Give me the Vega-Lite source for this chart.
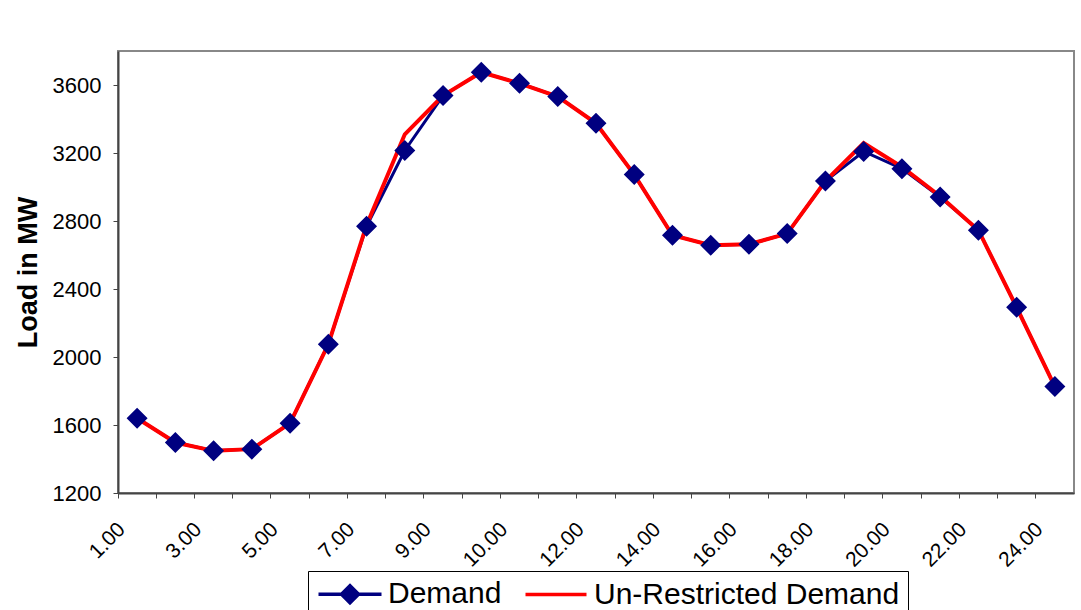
{
  "$schema": "https://vega.github.io/schema/vega-lite/v6.json",
  "autosize": "none",
  "width": 956,
  "height": 442,
  "padding": {"left": 118, "top": 51, "right": 7, "bottom": 117},
  "background": "white",
  "config": {
    "font": "Liberation Sans",
    "view": {"stroke": "#888888", "strokeWidth": 2}
  },
  "data": {
    "values": [
      {"hour": "1.00", "series": "Demand", "load": 1640},
      {"hour": "2.00", "series": "Demand", "load": 1497},
      {"hour": "3.00", "series": "Demand", "load": 1448},
      {"hour": "4.00", "series": "Demand", "load": 1458},
      {"hour": "5.00", "series": "Demand", "load": 1611},
      {"hour": "6.00", "series": "Demand", "load": 2075},
      {"hour": "7.00", "series": "Demand", "load": 2769},
      {"hour": "8.00", "series": "Demand", "load": 3215},
      {"hour": "9.00", "series": "Demand", "load": 3538},
      {"hour": "9.30", "series": "Demand", "load": 3675},
      {"hour": "10.00", "series": "Demand", "load": 3610},
      {"hour": "11.00", "series": "Demand", "load": 3532},
      {"hour": "12.00", "series": "Demand", "load": 3375},
      {"hour": "13.00", "series": "Demand", "load": 3073},
      {"hour": "14.00", "series": "Demand", "load": 2716},
      {"hour": "15.00", "series": "Demand", "load": 2658},
      {"hour": "16.00", "series": "Demand", "load": 2663},
      {"hour": "17.00", "series": "Demand", "load": 2726},
      {"hour": "18.00", "series": "Demand", "load": 3035},
      {"hour": "19.00", "series": "Demand", "load": 3209},
      {"hour": "20.00", "series": "Demand", "load": 3108},
      {"hour": "21.00", "series": "Demand", "load": 2941},
      {"hour": "22.00", "series": "Demand", "load": 2746},
      {"hour": "23.00", "series": "Demand", "load": 2292},
      {"hour": "24.00", "series": "Demand", "load": 1826},
      {"hour": "1.00", "series": "Un-Restricted Demand", "load": 1640},
      {"hour": "2.00", "series": "Un-Restricted Demand", "load": 1497},
      {"hour": "3.00", "series": "Un-Restricted Demand", "load": 1448},
      {"hour": "4.00", "series": "Un-Restricted Demand", "load": 1458},
      {"hour": "5.00", "series": "Un-Restricted Demand", "load": 1611},
      {"hour": "6.00", "series": "Un-Restricted Demand", "load": 2075},
      {"hour": "7.00", "series": "Un-Restricted Demand", "load": 2775},
      {"hour": "8.00", "series": "Un-Restricted Demand", "load": 3310},
      {"hour": "9.00", "series": "Un-Restricted Demand", "load": 3538},
      {"hour": "9.30", "series": "Un-Restricted Demand", "load": 3675},
      {"hour": "10.00", "series": "Un-Restricted Demand", "load": 3610},
      {"hour": "11.00", "series": "Un-Restricted Demand", "load": 3532},
      {"hour": "12.00", "series": "Un-Restricted Demand", "load": 3375},
      {"hour": "13.00", "series": "Un-Restricted Demand", "load": 3073},
      {"hour": "14.00", "series": "Un-Restricted Demand", "load": 2716},
      {"hour": "15.00", "series": "Un-Restricted Demand", "load": 2658},
      {"hour": "16.00", "series": "Un-Restricted Demand", "load": 2663},
      {"hour": "17.00", "series": "Un-Restricted Demand", "load": 2726},
      {"hour": "18.00", "series": "Un-Restricted Demand", "load": 3035},
      {"hour": "19.00", "series": "Un-Restricted Demand", "load": 3258},
      {"hour": "20.00", "series": "Un-Restricted Demand", "load": 3118},
      {"hour": "21.00", "series": "Un-Restricted Demand", "load": 2946},
      {"hour": "22.00", "series": "Un-Restricted Demand", "load": 2746},
      {"hour": "23.00", "series": "Un-Restricted Demand", "load": 2292},
      {"hour": "24.00", "series": "Un-Restricted Demand", "load": 1826}
    ]
  },
  "encoding": {
    "x": {
      "field": "hour",
      "type": "ordinal",
      "sort": null,
      "scale": {"type": "band", "paddingInner": 0, "paddingOuter": 0},
      "axis": {
        "title": null,
        "bandPosition": 0,
        "labelAngle": -45,
        "labelAlign": "right",
        "labelBaseline": "middle",
        "labelPadding": 28,
        "labelOffset": -15,
        "labelFontSize": 21,
        "labelColor": "black",
        "labelOverlap": false,
        "labelExpr": "indexof(['1.00','3.00','5.00','7.00','9.00','10.00','12.00','14.00','16.00','18.00','20.00','22.00','24.00'], datum.value) >= 0 ? datum.label : ''",
        "tickSize": 5,
        "tickColor": "#444444",
        "domainColor": "#444444",
        "domainWidth": 2,
        "grid": false
      }
    },
    "y": {
      "field": "load",
      "type": "quantitative",
      "scale": {"domain": [1200, 3800], "nice": false, "zero": false},
      "axis": {
        "title": "Load in MW",
        "titleFontSize": 27,
        "titleFontWeight": "bold",
        "titleColor": "black",
        "titlePadding": 10,
        "format": "d",
        "values": [1200, 1600, 2000, 2400, 2800, 3200, 3600],
        "labelFontSize": 22,
        "labelColor": "black",
        "labelPadding": 12,
        "tickSize": 5,
        "tickColor": "#444444",
        "domainColor": "#444444",
        "domainWidth": 2,
        "grid": false
      }
    },
    "color": {
      "field": "series",
      "type": "nominal",
      "scale": {"domain": ["Demand", "Un-Restricted Demand"], "range": ["#000080", "#FF0000"]},
      "legend": {
        "title": null,
        "orient": "none",
        "legendX": 190,
        "legendY": 520,
        "direction": "horizontal",
        "strokeColor": "black",
        "fillColor": "white",
        "padding": 8,
        "labelFontSize": 30,
        "labelColor": "black",
        "labelLimit": 0,
        "labelOffset": 23,
        "symbolOffset": 19,
        "columnPadding": 16,
        "symbolSize": 400,
        "symbolStrokeWidth": 3.5
      }
    }
  },
  "layer": [
    {
      "transform": [{"filter": "datum.series === 'Demand'"}],
      "mark": {"type": "line", "strokeWidth": 3}
    },
    {
      "transform": [{"filter": "datum.series === 'Un-Restricted Demand'"}],
      "mark": {"type": "line", "strokeWidth": 4}
    },
    {
      "mark": {"type": "point", "filled": true, "opacity": 1, "size": 610},
      "encoding": {
        "shape": {
          "field": "series",
          "type": "nominal",
          "scale": {
            "domain": ["Demand", "Un-Restricted Demand"],
            "range": ["M-3.15,0H3.15M0,-0.85L0.85,0L0,0.85L-0.85,0Z", "M-3.05,0H3.05"]
          },
          "legend": {
            "title": null,
            "orient": "none",
            "legendX": 190,
            "legendY": 520,
            "direction": "horizontal",
            "strokeColor": "black",
            "fillColor": "white",
            "padding": 8,
            "labelFontSize": 30,
            "labelColor": "black",
            "labelLimit": 0,
            "labelOffset": 23,
            "symbolOffset": 19,
            "columnPadding": 16,
            "symbolSize": 400,
            "symbolStrokeWidth": 3.5
          }
        }
      }
    }
  ]
}
